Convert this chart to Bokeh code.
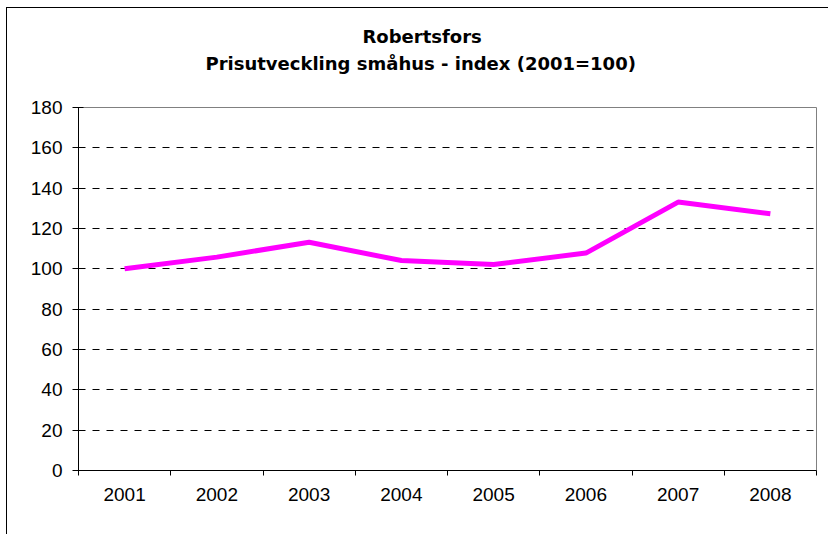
from bokeh.plotting import figure
from bokeh.models import Range1d, FixedTicker, Title
from bokeh.embed import file_html
from bokeh.resources import INLINE

title_line1 = "Robertsfors"
title_line2 = "Prisutveckling småhus - index (2001=100)"
years = ["2001", "2002", "2003", "2004", "2005", "2006", "2007", "2008"]
index_values = [100, 105.8, 113.2, 104.1, 102.1, 107.8, 133.1, 127.3]
y_ticks = [0, 20, 40, 60, 80, 100, 120, 140, 160, 180]
grid_ticks = [20, 40, 60, 80, 100, 120, 140, 160]

xs = [i + 0.5 for i in range(len(years))]
boundaries = list(range(len(years) + 1))

p = figure(width=822, height=527, title=None,
           x_range=Range1d(0, len(years)), y_range=Range1d(0, 180),
           output_backend="svg", toolbar_location=None,
           min_border_left=71, min_border_right=13,
           min_border_top=99, min_border_bottom=65)

p.styles = {"border-left": "1px solid black", "border-top": "1px solid black",
            "margin-left": "6px", "margin-top": "7px"}

p.line(xs, index_values, line_color="#FF00FF", line_width=5)

# x axis
p.xaxis.ticker = FixedTicker(ticks=xs, minor_ticks=boundaries)
p.xaxis.major_label_overrides = {x: y for x, y in zip(xs, years)}
p.xaxis.major_tick_out = 0
p.xaxis.major_tick_in = 0
p.xaxis.minor_tick_out = 5
p.xaxis.minor_tick_in = 0
p.xaxis.minor_tick_line_color = "black"
p.xaxis.major_label_standoff = 12

# y axis
p.yaxis.ticker = FixedTicker(ticks=y_ticks)
p.yaxis.major_tick_out = 6
p.yaxis.major_tick_in = 5
p.yaxis.minor_tick_line_color = None
p.yaxis.major_label_standoff = 10

for ax in (p.xaxis[0], p.yaxis[0]):
    ax.axis_line_color = "black"
    ax.axis_line_width = 1
    ax.major_tick_line_color = "black"
    ax.major_label_text_font = "Liberation Sans"
    ax.major_label_text_font_size = "19px"
    ax.major_label_text_color = "black"

p.xgrid.visible = False
p.ygrid.ticker = FixedTicker(ticks=grid_ticks)
p.ygrid.grid_line_color = "black"
p.ygrid.grid_line_dash = "7 7"
p.ygrid.grid_line_width = 1

p.outline_line_color = "#808080"
p.outline_line_width = 1

title_style = dict(align="left", text_font="DejaVu Sans", text_font_size="18px",
                   text_font_style="bold", text_color="black")
spacer = Title(text=" ", standoff=9, **title_style)
t2 = Title(text=title_line2, offset=127, standoff=4, **title_style)
t1 = Title(text=title_line1, offset=284, standoff=3, **title_style)
p.add_layout(spacer, "above")
p.add_layout(t2, "above")
p.add_layout(t1, "above")

open("out.html", "w").write(file_html(p, INLINE))
